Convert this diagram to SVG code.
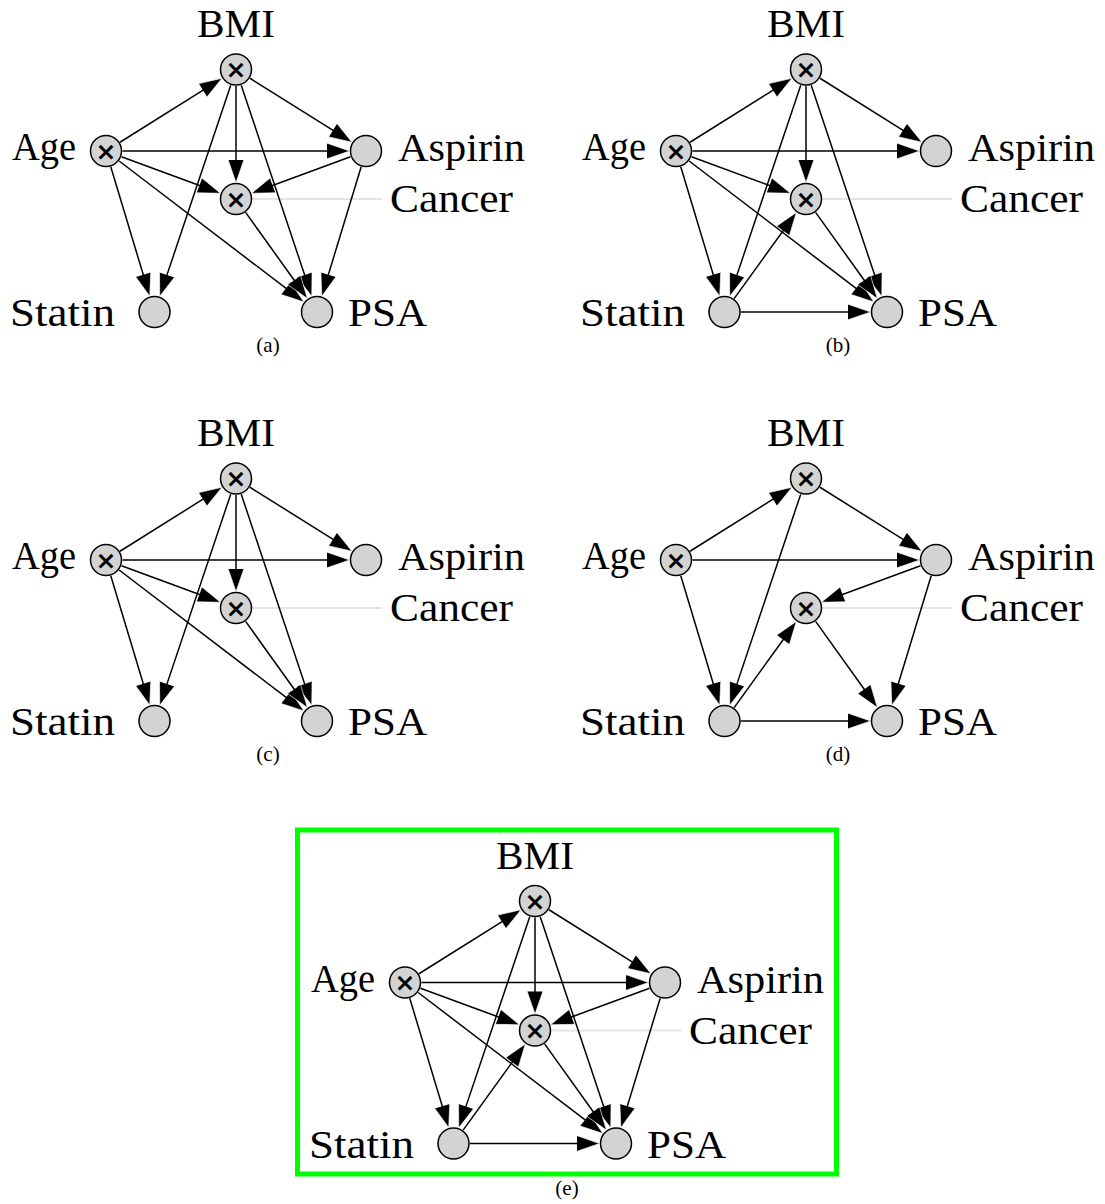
<svg xmlns="http://www.w3.org/2000/svg" width="1105" height="1204" viewBox="0 0 1105 1204">
<style>
.edge{stroke:#000;stroke-width:1.5;fill:none;marker-end:url(#ah)}
.lead{stroke:#e4e4e4;stroke-width:2;fill:none}
.node circle{fill:#d3d3d3;stroke:#000;stroke-width:1.5}
.lbl{font-family:"Liberation Serif",serif;font-size:40px;fill:#000}
.x{font-family:"DejaVu Sans",sans-serif;font-size:25px;font-weight:bold;text-anchor:middle;fill:#000}
.cap{font-family:"Liberation Serif",serif;font-size:21px;text-anchor:middle;fill:#000}
</style>
<defs>
<marker id="ah" viewBox="-4 -1 24 18" refX="0" refY="8" markerWidth="24" markerHeight="18" markerUnits="userSpaceOnUse" orient="auto" overflow="visible">
<path d="M-3,0.2 L19.5,8 L-3,15.8" fill="#000" stroke="#fff" stroke-width="0.6"/>
</marker>
</defs>
<rect width="1105" height="1204" fill="#fff"/>

<!-- Panel (a) -->
<g id="panel-a">
<line class="lead" x1="236" y1="199" x2="382" y2="199"/>
<g id="a-edges">
<line class="edge" x1="119.98" y1="142.24" x2="205.50" y2="88.62"/>
<line class="edge" x1="122.5" y1="151" x2="330" y2="151"/>
<line class="edge" x1="121.48" y1="156.72" x2="202.23" y2="186.53"/>
<line class="edge" x1="110.76" y1="166.80" x2="144.12" y2="277.53"/>
<line class="edge" x1="119.12" y1="161.01" x2="288.38" y2="290.16"/>
<line class="edge" x1="249.98" y1="78.26" x2="335.50" y2="131.88"/>
<line class="edge" x1="236" y1="86" x2="236" y2="163"/>
<line class="edge" x1="230.74" y1="85.14" x2="165.97" y2="277.88"/>
<line class="edge" x1="241.23" y1="85.15" x2="305.60" y2="277.85"/>
<line class="edge" x1="350.52" y1="156.72" x2="269.77" y2="186.53"/>
<line class="edge" x1="361.20" y1="166.79" x2="327.48" y2="277.56"/>
<line class="edge" x1="245.61" y1="212.41" x2="296.03" y2="282.74"/>
</g>
<g id="a-age" class="node"><circle cx="106" cy="151" r="15.5"/><text class="x" x="106" y="159.5">×</text><text class="lbl" x="12" y="160" textLength="64" lengthAdjust="spacingAndGlyphs">Age</text></g>
<g id="a-bmi" class="node"><circle cx="236" cy="69.5" r="15.5"/><text class="x" x="236" y="78">×</text><text class="lbl" x="236" y="37" text-anchor="middle" textLength="78" lengthAdjust="spacingAndGlyphs">BMI</text></g>
<g id="a-aspirin" class="node"><circle cx="366" cy="151" r="15.5"/><text class="lbl" x="398" y="161" textLength="127" lengthAdjust="spacingAndGlyphs">Aspirin</text></g>
<g id="a-cancer" class="node"><circle cx="236" cy="199" r="15.5"/><text class="x" x="236" y="207.5">×</text><text class="lbl" x="390" y="212" textLength="123" lengthAdjust="spacingAndGlyphs">Cancer</text></g>
<g id="a-statin" class="node"><circle cx="154.5" cy="312" r="15.5"/><text class="lbl" x="10" y="326" textLength="105" lengthAdjust="spacingAndGlyphs">Statin</text></g>
<g id="a-psa" class="node"><circle cx="317" cy="312" r="15.5"/><text class="lbl" x="348" y="326" textLength="79" lengthAdjust="spacingAndGlyphs">PSA</text></g>
<text class="cap" x="268" y="352">(a)</text>
</g>

<!-- Panel (b) -->
<g id="panel-b" transform="translate(570,0)">
<line class="lead" x1="236" y1="199" x2="382" y2="199"/>
<g id="b-edges">
<line class="edge" x1="119.98" y1="142.24" x2="205.50" y2="88.62"/>
<line class="edge" x1="122.5" y1="151" x2="330" y2="151"/>
<line class="edge" x1="121.48" y1="156.72" x2="202.23" y2="186.53"/>
<line class="edge" x1="110.76" y1="166.80" x2="144.12" y2="277.53"/>
<line class="edge" x1="119.12" y1="161.01" x2="288.38" y2="290.16"/>
<line class="edge" x1="249.98" y1="78.26" x2="335.50" y2="131.88"/>
<line class="edge" x1="236" y1="86" x2="236" y2="163"/>
<line class="edge" x1="230.74" y1="85.14" x2="165.97" y2="277.88"/>
<line class="edge" x1="241.23" y1="85.15" x2="305.60" y2="277.85"/>
<line class="edge" x1="164.15" y1="298.62" x2="214.94" y2="228.20"/>
<line class="edge" x1="171" y1="312" x2="281" y2="312"/>
<line class="edge" x1="245.61" y1="212.41" x2="296.03" y2="282.74"/>
</g>
<g id="b-age" class="node"><circle cx="106" cy="151" r="15.5"/><text class="x" x="106" y="159.5">×</text><text class="lbl" x="12" y="160" textLength="64" lengthAdjust="spacingAndGlyphs">Age</text></g>
<g id="b-bmi" class="node"><circle cx="236" cy="69.5" r="15.5"/><text class="x" x="236" y="78">×</text><text class="lbl" x="236" y="37" text-anchor="middle" textLength="78" lengthAdjust="spacingAndGlyphs">BMI</text></g>
<g id="b-aspirin" class="node"><circle cx="366" cy="151" r="15.5"/><text class="lbl" x="398" y="161" textLength="127" lengthAdjust="spacingAndGlyphs">Aspirin</text></g>
<g id="b-cancer" class="node"><circle cx="236" cy="199" r="15.5"/><text class="x" x="236" y="207.5">×</text><text class="lbl" x="390" y="212" textLength="123" lengthAdjust="spacingAndGlyphs">Cancer</text></g>
<g id="b-statin" class="node"><circle cx="154.5" cy="312" r="15.5"/><text class="lbl" x="10" y="326" textLength="105" lengthAdjust="spacingAndGlyphs">Statin</text></g>
<g id="b-psa" class="node"><circle cx="317" cy="312" r="15.5"/><text class="lbl" x="348" y="326" textLength="79" lengthAdjust="spacingAndGlyphs">PSA</text></g>
<text class="cap" x="268" y="352">(b)</text>
</g>

<!-- Panel (c) -->
<g id="panel-c" transform="translate(0,409)">
<line class="lead" x1="236" y1="199" x2="382" y2="199"/>
<g id="c-edges">
<line class="edge" x1="119.98" y1="142.24" x2="205.50" y2="88.62"/>
<line class="edge" x1="122.5" y1="151" x2="330" y2="151"/>
<line class="edge" x1="121.48" y1="156.72" x2="202.23" y2="186.53"/>
<line class="edge" x1="110.76" y1="166.80" x2="144.12" y2="277.53"/>
<line class="edge" x1="119.12" y1="161.01" x2="288.38" y2="290.16"/>
<line class="edge" x1="249.98" y1="78.26" x2="335.50" y2="131.88"/>
<line class="edge" x1="236" y1="86" x2="236" y2="163"/>
<line class="edge" x1="230.74" y1="85.14" x2="165.97" y2="277.88"/>
<line class="edge" x1="241.23" y1="85.15" x2="305.60" y2="277.85"/>
<line class="edge" x1="245.61" y1="212.41" x2="296.03" y2="282.74"/>
</g>
<g id="c-age" class="node"><circle cx="106" cy="151" r="15.5"/><text class="x" x="106" y="159.5">×</text><text class="lbl" x="12" y="160" textLength="64" lengthAdjust="spacingAndGlyphs">Age</text></g>
<g id="c-bmi" class="node"><circle cx="236" cy="69.5" r="15.5"/><text class="x" x="236" y="78">×</text><text class="lbl" x="236" y="37" text-anchor="middle" textLength="78" lengthAdjust="spacingAndGlyphs">BMI</text></g>
<g id="c-aspirin" class="node"><circle cx="366" cy="151" r="15.5"/><text class="lbl" x="398" y="161" textLength="127" lengthAdjust="spacingAndGlyphs">Aspirin</text></g>
<g id="c-cancer" class="node"><circle cx="236" cy="199" r="15.5"/><text class="x" x="236" y="207.5">×</text><text class="lbl" x="390" y="212" textLength="123" lengthAdjust="spacingAndGlyphs">Cancer</text></g>
<g id="c-statin" class="node"><circle cx="154.5" cy="312" r="15.5"/><text class="lbl" x="10" y="326" textLength="105" lengthAdjust="spacingAndGlyphs">Statin</text></g>
<g id="c-psa" class="node"><circle cx="317" cy="312" r="15.5"/><text class="lbl" x="348" y="326" textLength="79" lengthAdjust="spacingAndGlyphs">PSA</text></g>
<text class="cap" x="268" y="352">(c)</text>
</g>

<!-- Panel (d) -->
<g id="panel-d" transform="translate(570,409)">
<line class="lead" x1="236" y1="199" x2="382" y2="199"/>
<g id="d-edges">
<line class="edge" x1="119.98" y1="142.24" x2="205.50" y2="88.62"/>
<line class="edge" x1="122.5" y1="151" x2="330" y2="151"/>
<line class="edge" x1="110.76" y1="166.80" x2="144.12" y2="277.53"/>
<line class="edge" x1="249.98" y1="78.26" x2="335.50" y2="131.88"/>
<line class="edge" x1="230.74" y1="85.14" x2="165.97" y2="277.88"/>
<line class="edge" x1="350.52" y1="156.72" x2="269.77" y2="186.53"/>
<line class="edge" x1="361.20" y1="166.79" x2="327.48" y2="277.56"/>
<line class="edge" x1="164.15" y1="298.62" x2="214.94" y2="228.20"/>
<line class="edge" x1="171" y1="312" x2="281" y2="312"/>
<line class="edge" x1="245.61" y1="212.41" x2="296.03" y2="282.74"/>
</g>
<g id="d-age" class="node"><circle cx="106" cy="151" r="15.5"/><text class="x" x="106" y="159.5">×</text><text class="lbl" x="12" y="160" textLength="64" lengthAdjust="spacingAndGlyphs">Age</text></g>
<g id="d-bmi" class="node"><circle cx="236" cy="69.5" r="15.5"/><text class="x" x="236" y="78">×</text><text class="lbl" x="236" y="37" text-anchor="middle" textLength="78" lengthAdjust="spacingAndGlyphs">BMI</text></g>
<g id="d-aspirin" class="node"><circle cx="366" cy="151" r="15.5"/><text class="lbl" x="398" y="161" textLength="127" lengthAdjust="spacingAndGlyphs">Aspirin</text></g>
<g id="d-cancer" class="node"><circle cx="236" cy="199" r="15.5"/><text class="x" x="236" y="207.5">×</text><text class="lbl" x="390" y="212" textLength="123" lengthAdjust="spacingAndGlyphs">Cancer</text></g>
<g id="d-statin" class="node"><circle cx="154.5" cy="312" r="15.5"/><text class="lbl" x="10" y="326" textLength="105" lengthAdjust="spacingAndGlyphs">Statin</text></g>
<g id="d-psa" class="node"><circle cx="317" cy="312" r="15.5"/><text class="lbl" x="348" y="326" textLength="79" lengthAdjust="spacingAndGlyphs">PSA</text></g>
<text class="cap" x="268" y="352">(d)</text>
</g>

<!-- Panel (e) -->
<rect id="e-frame" x="297.5" y="830" width="539" height="344" fill="none" stroke="#00ff00" stroke-width="5"/>
<g id="panel-e" transform="translate(299,831.5)">
<line class="lead" x1="236" y1="199" x2="382" y2="199"/>
<g id="e-edges">
<line class="edge" x1="119.98" y1="142.24" x2="205.50" y2="88.62"/>
<line class="edge" x1="122.5" y1="151" x2="330" y2="151"/>
<line class="edge" x1="121.48" y1="156.72" x2="202.23" y2="186.53"/>
<line class="edge" x1="110.76" y1="166.80" x2="144.12" y2="277.53"/>
<line class="edge" x1="119.12" y1="161.01" x2="288.38" y2="290.16"/>
<line class="edge" x1="249.98" y1="78.26" x2="335.50" y2="131.88"/>
<line class="edge" x1="236" y1="86" x2="236" y2="163"/>
<line class="edge" x1="230.74" y1="85.14" x2="165.97" y2="277.88"/>
<line class="edge" x1="241.23" y1="85.15" x2="305.60" y2="277.85"/>
<line class="edge" x1="350.52" y1="156.72" x2="269.77" y2="186.53"/>
<line class="edge" x1="361.20" y1="166.79" x2="327.48" y2="277.56"/>
<line class="edge" x1="164.15" y1="298.62" x2="214.94" y2="228.20"/>
<line class="edge" x1="171" y1="312" x2="281" y2="312"/>
<line class="edge" x1="245.61" y1="212.41" x2="296.03" y2="282.74"/>
</g>
<g id="e-age" class="node"><circle cx="106" cy="151" r="15.5"/><text class="x" x="106" y="159.5">×</text><text class="lbl" x="12" y="160" textLength="64" lengthAdjust="spacingAndGlyphs">Age</text></g>
<g id="e-bmi" class="node"><circle cx="236" cy="69.5" r="15.5"/><text class="x" x="236" y="78">×</text><text class="lbl" x="236" y="37" text-anchor="middle" textLength="78" lengthAdjust="spacingAndGlyphs">BMI</text></g>
<g id="e-aspirin" class="node"><circle cx="366" cy="151" r="15.5"/><text class="lbl" x="398" y="161" textLength="127" lengthAdjust="spacingAndGlyphs">Aspirin</text></g>
<g id="e-cancer" class="node"><circle cx="236" cy="199" r="15.5"/><text class="x" x="236" y="207.5">×</text><text class="lbl" x="390" y="212" textLength="123" lengthAdjust="spacingAndGlyphs">Cancer</text></g>
<g id="e-statin" class="node"><circle cx="154.5" cy="312" r="15.5"/><text class="lbl" x="10" y="326" textLength="105" lengthAdjust="spacingAndGlyphs">Statin</text></g>
<g id="e-psa" class="node"><circle cx="317" cy="312" r="15.5"/><text class="lbl" x="348" y="326" textLength="79" lengthAdjust="spacingAndGlyphs">PSA</text></g>
</g>
<text class="cap" x="567" y="1195">(e)</text>
</svg>
